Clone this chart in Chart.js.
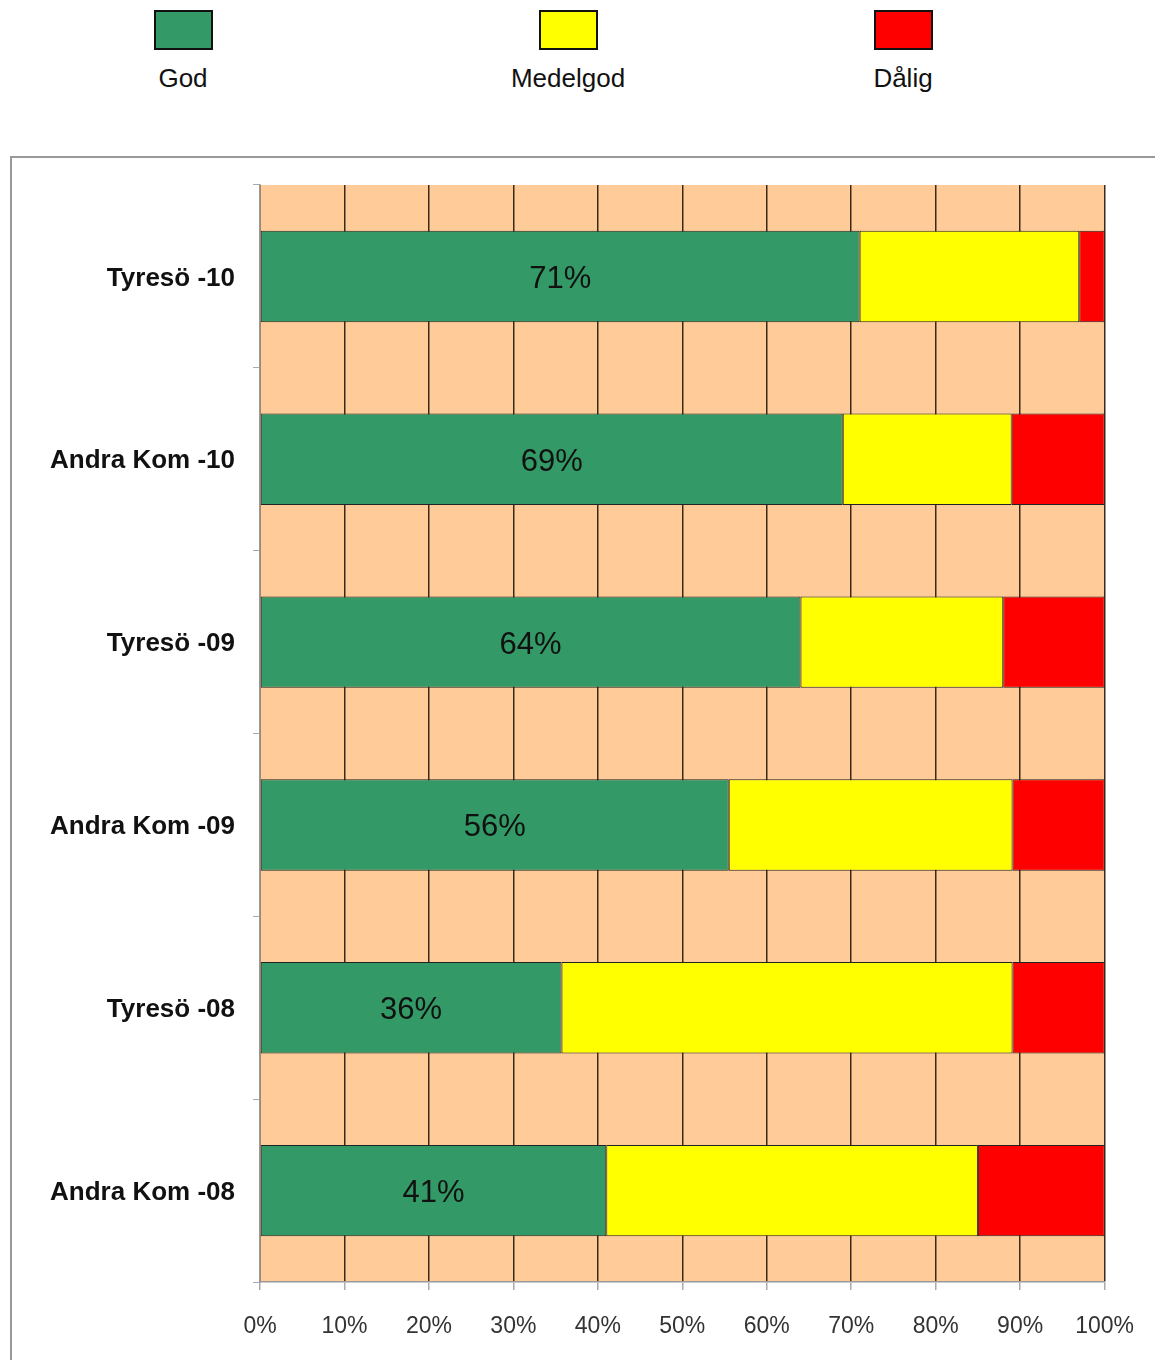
<!DOCTYPE html>
<html>
<head>
<meta charset="utf-8">
<script src="https://cdn.jsdelivr.net/npm/chart.js@4.4.1/dist/chart.umd.min.js"></script>
<style>
  body { margin: 0; background: #fff; font-family: "Liberation Sans", Arial, sans-serif; }
  #legend .sw { position: absolute; top: 10px; width: 55px; height: 36px; border: 2px solid #111; }
  #legend .lb { position: absolute; top: 63px; width: 200px; text-align: center; font-size: 26px; color: #111; }
  #chart-box { position: absolute; left: 10px; top: 156px; width: 1145px; height: 1204px;
    border-top: 2px solid #999; border-left: 2px solid #999; }
</style>
</head>
<body>
<div id="legend"></div>
<div id="chart-box"><canvas id="qualityChart"></canvas></div>
<script>
var categories = ['Tyresö -10', 'Andra Kom -10', 'Tyresö -09', 'Andra Kom -09', 'Tyresö -08', 'Andra Kom -08']
var seriesNames = ['God', 'Medelgod', 'Dålig']
var godValues = [71, 69, 64, 55.5, 35.7, 41]
var medelgodValues = [26, 20, 24, 33.6, 53.4, 44]
var daligValues = [3, 11, 12, 10.9, 10.9, 15]
var xTicks = [0, 10, 20, 30, 40, 50, 60, 70, 80, 90, 100]

var colours = ['#339966', '#FFFF00', '#FF0000']
var legendCentres = [183, 568, 903]

// legend above the box, swatch over label
var legendEl = document.getElementById('legend')
for (let i = 0; i < seriesNames.length; i++) {
  let sw = document.createElement('div')
  sw.className = 'sw'
  sw.style.left = (legendCentres[i] - 29) + 'px'
  sw.style.background = colours[i]
  legendEl.appendChild(sw)
  let lb = document.createElement('div')
  lb.className = 'lb'
  lb.style.left = (legendCentres[i] - 100) + 'px'
  lb.textContent = seriesNames[i]
  legendEl.appendChild(lb)
}

var plotBackground = {
  id: 'plotBackground',
  beforeDraw: function(chart) {
    var a = chart.chartArea
    var ctx = chart.ctx
    ctx.save()
    ctx.fillStyle = '#FFCC99'
    ctx.fillRect(a.left, a.top, a.right - a.left, a.bottom - a.top)
    ctx.restore()
  }
}

var godLabels = {
  id: 'godLabels',
  afterDatasetsDraw: function(chart) {
    var ctx = chart.ctx
    var meta = chart.getDatasetMeta(0)
    ctx.save()
    ctx.font = '31px "Liberation Sans", Arial, sans-serif'
    ctx.fillStyle = '#111'
    ctx.textAlign = 'center'
    ctx.textBaseline = 'middle'
    meta.data.forEach(function(bar, i) {
      ctx.fillText(Math.round(godValues[i]) + '%', (bar.x + bar.base) / 2, bar.y + 3)
    })
    ctx.restore()
  }
}

var valueSets = [godValues, medelgodValues, daligValues]
var datasets = []
for (let i = 0; i < seriesNames.length; i++) {
  datasets.push({
    label: seriesNames[i],
    data: valueSets[i],
    backgroundColor: colours[i],
    borderColor: '#222',
    borderWidth: 1,
    borderSkipped: false,
    categoryPercentage: 1.0,
    barPercentage: 0.5
  })
}

var ctx = document.getElementById('qualityChart').getContext('2d')
var qualityChart = new Chart(ctx, {
  type: 'bar',
  data: { labels: categories, datasets: datasets },
  plugins: [plotBackground, godLabels],
  options: {
    indexAxis: 'y',
    responsive: true,
    maintainAspectRatio: false,
    animation: false,
    layout: { padding: { left: 0, right: 52, top: 27, bottom: 0 } },
    plugins: {
      legend: { display: false },
      tooltip: { enabled: false }
    },
    scales: {
      x: {
        stacked: true,
        min: 0,
        max: 100,
        afterBuildTicks: function(scale) {
          scale.ticks = xTicks.map(function(v) { return { value: v } })
        },
        afterFit: function(scale) { scale.height = 80 },
        ticks: {
          padding: 23,
          color: '#333',
          font: { family: '"Liberation Sans", Arial, sans-serif', size: 23 },
          callback: function(value) { return value + '%' }
        },
        grid: {
          color: '#3a2a1a',
          lineWidth: 1.5,
          tickColor: '#aaa',
          tickLength: 8
        },
        border: { display: true, color: '#999', width: 1.5 }
      },
      y: {
        stacked: true,
        afterFit: function(scale) {
          scale.width = 248
          // labels sit in the middle of each band, no overflow at the ends
          scale.paddingTop = 0
          scale.paddingBottom = 0
        },
        ticks: {
          padding: 18,
          labelOffset: 2,
          color: '#111',
          font: { family: '"Liberation Sans", Arial, sans-serif', size: 26, weight: 'bold' }
        },
        grid: {
          offset: true,
          drawOnChartArea: false,
          tickColor: '#aaa',
          tickLength: 7
        },
        border: { display: true, color: '#999', width: 1.5 }
      }
    }
  }
})
</script>
</body>
</html>
